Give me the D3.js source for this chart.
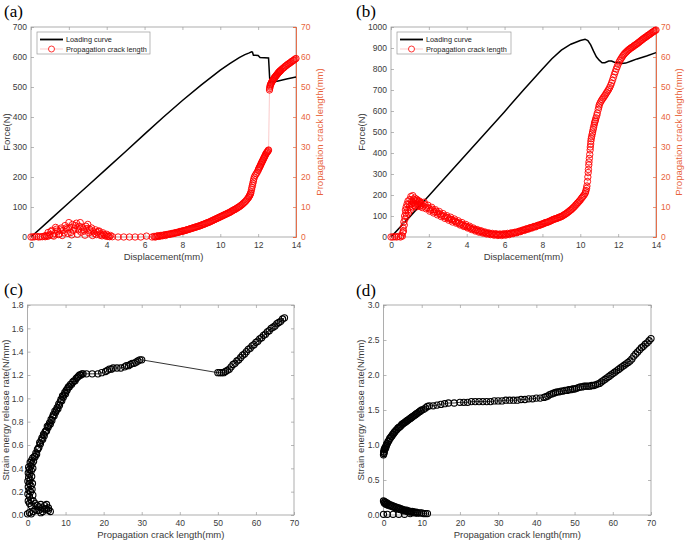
<!DOCTYPE html>
<html>
<head>
<meta charset="utf-8">
<script src="https://cdn.jsdelivr.net/npm/d3@7"></script>
<style>
  body { margin: 0; background: #fff; }
  svg { display: block; font-family: Arial, "Liberation Sans", sans-serif; }
</style>
</head>
<body>
<div id="chart"></div>
<script>
// ---- data ----
// (a) loading curve: [displacement mm, force N]
const loadA = [[0,0],[1,57],[2,114],[3,171],[4,228],[5,285],[6,343],[7,400],[8,455],[9,507],[10,556],[10.5,578],
  [11,598],[11.3,608],[11.5,613],[11.65,617],[11.7,616],[11.75,606],[11.85,606],[12.0,605],
  [12.1,598],[12.55,597],[12.62,516],[13.0,519],[13.5,527],[14,533]];
// (a) propagation crack length: [displacement mm, crack mm]
const crackA = [[0,0],[0.1,0],[0.2,0.1],[0.3,0.2],[0.4,0],[0.5,0.1],[0.6,0.1],[0.7,0.3],[0.75,0.1],[0.8,0.5],
  [0.85,0.2],[0.9,1.5],[0.95,0.4],[1.0,0.8],[1.05,1.8],[1.1,2.2],[1.15,0.6],[1.2,0.3],[1.25,1.2],[1.3,3.2],
  [1.35,2.6],[1.4,2.0],[1.45,0.8],[1.5,1.0],[1.55,2.4],[1.6,3.0],[1.65,0.5],[1.7,2.2],[1.75,1.4],[1.8,3.8],
  [1.85,3.0],[1.9,2.6],[1.95,1.2],[2.0,4.8],[2.05,3.2],[2.1,1.5],[2.15,0.7],[2.2,4.2],[2.25,2.2],[2.3,3.0],
  [2.35,3.8],[2.4,4.6],[2.45,0.9],[2.5,2.4],[2.55,3.6],[2.6,4.8],[2.65,1.6],[2.7,3.2],[2.75,2.6],[2.8,2.0],
  [2.85,0.6],[2.9,3.6],[2.95,2.8],[3.0,4.2],[3.05,1.4],[3.1,2.6],[3.15,2.0],[3.2,3.0],[3.25,0.5],[3.3,1.8],
  [3.35,1.2],[3.4,2.4],[3.45,0.8],[3.5,1.5],[3.55,1.9],[3.6,2.0],[3.65,0.6],[3.7,1.0],[3.75,0.4],[3.8,1.4],
  [3.85,0.9],[3.9,0.6],[3.95,0.3],[4.0,0.9],[4.05,0.2],[4.1,0.3],[4.15,0.1],[4.2,0.5],[4.3,0.1],[4.6,0],[4.9,0],
  [5.2,0],[5.5,0],[5.8,0],[6.1,0.3],[6.4,0],
  [6.5,0.2],[6.55,0.0],[6.6,0.1],[6.65,0.3],[6.7,0.4],[6.75,0.2],[6.8,0.3],[6.85,0.5],[6.9,0.5],[6.95,0.4],[7.0,0.6],
  [7.05,0.7],[7.1,0.5],[7.15,0.8],[7.2,0.8],[7.25,0.9],[7.3,0.9],[7.35,1.0],[7.4,1.0],[7.45,1.2],[7.5,1.1],
  [7.55,1.3],[7.6,1.3],[7.65,1.4],[7.7,1.5],[7.75,1.5],[7.8,1.6],[7.85,1.8],[7.9,1.8],[7.95,1.9],[8.0,1.9],
  [8.05,2.1],[8.1,2.1],[8.15,2.2],[8.2,2.3],[8.25,2.4],[8.3,2.5],[8.35,2.6],[8.4,2.7],[8.45,2.8],[8.5,2.9],
  [8.55,3.0],[8.6,3.1],[8.65,3.2],[8.7,3.3],[8.75,3.4],[8.8,3.5],[8.85,3.6],[8.9,3.7],[8.95,3.8],[9.0,3.9],
  [9.05,4.1],[9.1,4.2],[9.15,4.3],[9.2,4.4],[9.25,4.6],[9.3,4.7],[9.35,4.8],[9.4,4.9],[9.45,5.1],[9.5,5.2],
  [9.55,5.4],[9.6,5.5],[9.65,5.7],[9.7,5.8],[9.75,6.0],[9.8,6.1],[9.85,6.3],[9.9,6.4],[9.95,6.6],[10.0,6.7],
  [10.05,6.9],[10.1,7.0],[10.15,7.2],[10.2,7.3],[10.25,7.5],[10.3,7.6],[10.35,7.8],[10.4,7.9],[10.45,8.1],
  [10.5,8.2],[10.55,8.4],[10.6,8.6],[10.65,8.8],[10.7,9.0],[10.75,9.1],[10.8,9.3],[10.85,9.5],[10.9,9.7],
  [10.95,9.9],[11.0,10.1],[11.05,10.3],[11.1,10.6],[11.15,10.8],[11.2,11.1],[11.25,11.4],[11.3,11.7],[11.35,12.0],
  [11.4,12.4],[11.45,12.8],[11.5,13.2],[11.52,13.5],[11.55,13.8],[11.58,14.2],[11.6,14.5],[11.62,15.0],
  [11.65,15.8],[11.67,16.5],[11.7,17.2],[11.72,17.9],[11.75,18.6],[11.77,19.3],[11.8,20.0],[11.85,20.6],
  [11.9,21.1],[11.95,21.6],[12.0,22.2],[12.02,22.6],[12.05,23.0],[12.08,23.3],[12.1,23.6],[12.13,24.0],
  [12.15,24.3],[12.18,24.7],[12.2,25.0],[12.23,25.3],[12.25,25.6],[12.28,26.0],[12.3,26.3],[12.33,26.6],
  [12.35,26.9],[12.38,27.3],[12.4,27.6],[12.43,27.9],[12.45,28.1],[12.48,28.3],[12.5,28.5],[12.53,28.8],
  [12.55,29.0],[12.6,49.0],[12.61,49.5],[12.62,50.0],[12.64,50.4],[12.65,50.8],[12.68,51.1],[12.7,51.4],
  [12.72,51.7],[12.75,52.0],[12.78,52.2],[12.8,52.5],[12.83,52.8],[12.85,53.0],[12.88,53.2],[12.9,53.4],
  [12.93,53.6],[12.95,53.8],[12.98,54.0],[13.0,54.2],[13.03,54.4],[13.05,54.6],[13.08,54.8],[13.1,55.0],
  [13.13,55.1],[13.15,55.3],[13.18,55.4],[13.2,55.6],[13.25,55.9],[13.3,56.2],[13.35,56.4],[13.4,56.7],
  [13.45,57.0],[13.5,57.2],[13.55,57.5],[13.6,57.7],[13.65,57.9],[13.7,58.1],[13.75,58.4],[13.8,58.6],
  [13.85,58.8],[13.9,59.0],[13.95,59.3],[14.0,59.5]];

// (b) loading curve
const loadB = [[0,0],[1,97],[2,197],[3,297],[4,397],[5,497],[6,597],[7,700],[7.5,750],[8,800],[8.5,849],[9,890],
  [9.5,918],[10,936],[10.25,942],[10.4,935],[10.55,915],[10.7,885],[10.85,858],[11.0,842],[11.15,830],[11.3,830],
  [11.5,838],[11.65,838],[11.8,832],[12.0,831],[12.2,826],[12.4,828],[12.7,838],[13.0,848],[13.5,862],[14,878]];
// (b) propagation crack length
const crackB = [[0,0],[0.1,0],[0.2,0.1],[0.3,0],[0.4,0.2],[0.5,0],[0.55,0.5],[0.6,0.3],[0.62,1.5],[0.64,3],
  [0.66,2],[0.68,5],[0.7,4],[0.72,7],[0.74,6],[0.76,9],[0.78,8],[0.8,10],[0.82,7],[0.85,11],[0.88,9],[0.9,12],
  [0.92,8],[0.95,11],[0.98,10],[1.0,12.5],[1.02,9],[1.05,13.5],[1.08,11],[1.1,12],[1.12,10],[1.15,13.8],[1.18,11.5],
  [1.2,12.5],[1.22,10.5],[1.25,13],[1.28,11],[1.3,12],[1.32,10],[1.35,12.6],[1.38,11.3],[1.4,12.2],[1.42,10.4],
  [1.45,11.8],[1.48,10.8],[1.5,12],[1.52,10.2],[1.55,11.5],[1.58,10.6],
  [1.6,11.2],[1.65,9.8],[1.7,10.3],[1.75,11.6],[1.8,10.8],[1.85,9.4],[1.9,9.8],[1.95,10.6],[2.0,9.6],[2.05,8.6],
  [2.1,9.0],[2.15,9.9],[2.2,9.2],[2.25,8.0],[2.3,8.4],[2.35,9.1],[2.4,8.5],[2.45,7.4],[2.5,7.9],[2.55,8.5],
  [2.6,7.6],[2.65,6.8],[2.7,7.2],[2.75,7.8],[2.8,7.0],[2.85,6.2],[2.9,6.6],[2.95,7.1],[3.0,6.4],[3.05,5.6],
  [3.1,6.0],[3.15,6.6],[3.2,5.8],[3.25,5.0],[3.3,5.5],[3.35,6.0],[3.4,5.2],[3.45,4.6],[3.5,4.9],[3.55,5.4],
  [3.6,4.6],[3.65,4.0],[3.7,4.3],[3.75,4.8],[3.8,4.0],[3.85,3.5],[3.9,3.7],[3.95,4.2],[4.0,3.5],[4.05,3.0],
  [4.1,3.2],[4.15,3.6],[4.2,3.0],[4.25,2.5],[4.3,2.7],[4.35,3.0],[4.4,2.5],[4.45,2.0],[4.5,2.3],[4.55,2.5],
  [4.6,2.0],[4.65,1.6],[4.7,1.9],[4.75,2.1],[4.8,1.7],[4.85,1.3],[4.9,1.5],[4.95,1.7],[5.0,1.3],[5.05,1.0],
  [5.1,1.2],[5.15,1.4],[5.2,1.1],[5.25,0.8],[5.3,1.0],[5.35,1.2],[5.4,0.9],[5.45,0.6],[5.5,0.9],[5.55,1.1],
  [5.6,0.8],[5.65,0.5],[5.7,0.8],[5.75,1.0],[5.8,0.8],[5.85,0.5],[5.9,0.8],[5.95,1.1],[6.0,0.9],[6.05,0.6],
  [6.1,0.9],[6.15,1.2],[6.2,1.0],[6.25,0.8],[6.3,1.1],[6.35,1.4],[6.4,1.2],[6.45,1.1],[6.5,1.4],[6.55,1.6],
  [6.6,1.5],[6.65,1.4],[6.7,1.7],[6.75,1.9],[6.8,1.9],[6.85,1.8],[6.9,2.1],[6.95,2.3],[7.0,2.3],[7.05,2.2],
  [7.1,2.5],[7.15,2.7],[7.2,2.7],[7.25,2.6],[7.3,2.9],[7.35,3.1],[7.4,3.1],[7.45,3.0],[7.5,3.3],[7.55,3.5],
  [7.6,3.5],[7.65,3.4],[7.7,3.7],[7.75,3.9],[7.8,3.9],[7.85,3.9],[7.9,4.1],[7.95,4.3],[8.0,4.3],[8.05,4.4],
  [8.1,4.6],[8.15,4.8],[8.2,4.8],[8.25,4.9],[8.3,5.0],[8.35,5.2],[8.4,5.3],[8.45,5.4],[8.5,5.6],[8.55,5.8],
  [8.6,5.9],[8.65,6.0],[8.7,6.1],[8.75,6.2],[8.8,6.3],[8.85,6.5],[8.9,6.6],[8.95,6.7],[9.0,6.8],[9.05,7.0],
  [9.1,7.2],[9.15,7.4],[9.2,7.6],[9.25,7.8],[9.3,8.0],[9.35,8.3],[9.4,8.5],[9.45,8.8],[9.5,9.0],[9.55,9.3],
  [9.6,9.6],[9.65,9.9],[9.7,10.2],[9.75,10.6],[9.8,10.9],[9.85,11.3],[9.9,11.6],[9.95,12.0],[10.0,12.3],
  [10.05,12.8],[10.1,13.2],[10.15,13.6],[10.2,14.0],[10.25,14.5],[10.28,15.0],[10.3,15.5],[10.33,16.2],[10.35,17],
  [10.38,18.5],[10.4,20],[10.42,21.5],[10.43,22.5],[10.45,24],[10.46,25],[10.48,26.2],[10.5,27.5],[10.52,29],
  [10.53,30],[10.55,31],[10.56,32],[10.58,32.8],[10.6,33.5],[10.63,34.3],[10.65,35],[10.68,35.8],[10.7,36.5],
  [10.73,37.3],[10.75,38],[10.78,38.5],[10.8,39],[10.83,39.7],[10.87,40.5],[10.9,41.3],[10.95,42.5],[10.98,43.3],
  [11.0,44],[11.05,44.7],[11.1,45.3],[11.15,45.8],[11.2,46.3],[11.25,46.7],[11.3,47.2],[11.35,47.7],[11.4,48.2],
  [11.45,48.7],[11.5,49.2],[11.55,49.8],[11.6,50.5],[11.65,51.3],[11.7,52.2],[11.75,53.2],[11.8,54.2],[11.85,55.1],
  [11.9,56],[11.95,56.8],[12.0,57.6],[12.05,58.3],[12.1,58.9],[12.15,59.4],[12.2,59.9],[12.25,60.4],[12.3,60.8],
  [12.35,61.2],[12.4,61.5],[12.45,61.8],[12.5,62.1],[12.55,62.4],[12.6,62.6],[12.65,62.9],[12.7,63.1],[12.75,63.3],
  [12.8,63.5],[12.85,63.8],[12.9,64],[12.95,64.2],[13.0,64.4],[13.05,64.7],[13.1,64.9],[13.15,65.2],[13.2,65.4],
  [13.25,65.7],[13.3,65.9],[13.35,66.2],[13.4,66.4],[13.45,66.6],[13.5,66.8],[13.55,67.1],[13.6,67.3],[13.65,67.5],
  [13.7,67.7],[13.75,68.0],[13.8,68.2],[13.85,68.4],[13.9,68.6],[13.95,68.8],[14.0,69]];

// (c) strain energy release rate vs crack length: [crack mm, G N/mm]
const energyC = [[0,0.01],[0.5,0.02],[1,0.01],[1.5,0.03],[2,0.05],[2.5,0.04],[3,0.07],[3.5,0.09],[4,0.06],[4.5,0.08],
  [5,0.05],[5.5,0.04],[6,0.03],[5.5,0.06],[5,0.09],[4.5,0.05],[4,0.03],[3.5,0.02],[3,0.04],[2.5,0.08],[2,0.1],
  [1.5,0.12],[1,0.08],[0.5,0.1],[0.2,0.12],[0.9,0.13],[0.5,0.16],[1.4,0.17],[0.1,0.18],[0.8,0.2],[0.4,0.21],
  [1.2,0.22],[0.2,0.24],[0.9,0.25],[0.5,0.27],[1.3,0.27],[0.1,0.29],[0.7,0.3],[0.3,0.32],[1.1,0.33],[0.6,0.35],
  [0.2,0.36],[1.0,0.38],[0.5,0.39],[1.4,0.4],[0.3,0.41],[0.9,0.42],[1.2,0.44],[0.7,0.45],[1.6,0.46],[1.1,0.47],
  [1.4,0.49],[1.8,0.5],[2.0,0.5],[2.2,0.53],[2.4,0.52],[2.6,0.56],[2.8,0.57],[3.0,0.58],[3.2,0.62],[3.4,0.61],
  [3.6,0.64],[3.8,0.66],[4.0,0.65],[4.2,0.69],[4.4,0.68],[4.6,0.71],[4.8,0.72],[5.0,0.72],[5.2,0.76],[5.4,0.75],
  [5.6,0.77],[5.8,0.79],[6.0,0.78],[6.2,0.82],[6.4,0.81],[6.6,0.84],[6.8,0.86],[7.0,0.85],[7.2,0.89],[7.4,0.88],
  [7.6,0.9],[7.8,0.92],[8.0,0.91],[8.2,0.95],[8.4,0.94],[8.6,0.97],[8.8,0.99],[9.0,0.98],[9.2,1.02],[9.4,1.01],
  [9.6,1.03],[9.8,1.05],[10.0,1.04],[10.2,1.07],[10.4,1.07],[10.6,1.09],[10.8,1.1],[11.0,1.1],[11.3,1.12],
  [11.6,1.12],[11.9,1.14],[12.2,1.15],[12.5,1.15],[12.8,1.17],[13.1,1.18],[13.4,1.19],[13.7,1.2],[14.0,1.2],
  [14.3,1.21],[14.6,1.21],[15.5,1.21],[17,1.21],[18.5,1.21],[19.5,1.22],[20.5,1.23],[21,1.24],[21.5,1.25],[22,1.25],
  [22.5,1.26],[23.5,1.26],[24.5,1.26],[25.5,1.27],[26,1.28],[26.5,1.28],[27,1.29],[27.5,1.3],[28,1.3],[28.5,1.31],
  [29,1.32],[29.5,1.33],[30,1.33],
  [50,1.22],[50.5,1.22],[51,1.22],[51.5,1.22],[52,1.23],[52.5,1.24],[53,1.25],[53.5,1.27],[54,1.29],[54.5,1.3],
  [55,1.32],[55.5,1.33],[56,1.35],[56.5,1.37],[57,1.38],[57.5,1.4],[58,1.42],[58.5,1.43],[59,1.45],[59.5,1.46],
  [60,1.48],[60.5,1.49],[61,1.51],[61.5,1.52],[62,1.54],[62.5,1.55],[63,1.57],[63.5,1.58],[64,1.6],[64.5,1.61],
  [65,1.62],[65.5,1.64],[66,1.65],[66.5,1.66],[67,1.68],[67.5,1.69]];

// (d) lower branch and upper branch
const energyDLow = [[0,0.01],[1,0.01],[2.5,0.01],[4,0.01],[5.5,0.01],[7,0.02],
  [0,0.2],[0.2,0.17],[0.3,0.19],[0.5,0.16],[0.6,0.18],[0.8,0.15],[1,0.17],[1.25,0.14],[1.5,0.15],[1.75,0.13],
  [2,0.14],[2.25,0.12],[2.5,0.13],[2.75,0.11],[3,0.12],[3.25,0.1],[3.5,0.11],[3.75,0.09],[4,0.1],[4.25,0.08],
  [4.5,0.09],[4.75,0.07],[5,0.08],[5.25,0.06],[5.5,0.07],[5.75,0.06],[6,0.07],[6.25,0.05],[6.5,0.06],[6.75,0.05],
  [7,0.05],[7.25,0.04],[7.5,0.05],[7.75,0.04],[8,0.04],[8.25,0.03],[8.5,0.04],[8.75,0.03],[9,0.03],[9.5,0.03],
  [10,0.03],[10.5,0.02],[11,0.02],[11.5,0.02]];
const energyDHigh = [[0,0.86],[0.05,0.9],[0.1,0.88],[0.15,0.93],[0.2,0.9],[0.3,0.95],[0.4,0.94],[0.5,0.97],
  [0.6,0.96],[0.7,0.99],[0.8,1.0],[0.9,1.02],[1.0,1.02],[1.2,1.05],[1.4,1.06],[1.6,1.09],[1.8,1.1],[2.0,1.12],
  [2.2,1.13],[2.4,1.15],[2.6,1.16],[2.8,1.18],[3,1.19],[3.25,1.21],[3.5,1.22],[3.75,1.24],[4,1.25],[4.25,1.26],
  [4.5,1.27],[4.75,1.29],[5,1.3],[5.25,1.31],[5.5,1.32],[5.75,1.33],[6,1.34],[6.25,1.35],[6.5,1.36],[6.75,1.37],
  [7,1.38],[7.25,1.39],[7.5,1.4],[7.75,1.41],[8,1.42],[8.25,1.43],[8.5,1.44],[8.75,1.45],[9,1.46],[9.25,1.47],
  [9.5,1.48],[9.75,1.49],[10,1.5],[10.5,1.51],[11,1.53],[11.5,1.55],[12,1.56],[13,1.56],[14,1.57],[15,1.58],
  [16,1.59],[17,1.6],[18.5,1.6],[20,1.61],[21,1.61],[22,1.61],[23,1.62],[24,1.62],[25,1.62],[26,1.62],[27,1.62],
  [28,1.62],[29,1.63],[30,1.63],[31,1.63],[32,1.64],[33,1.64],[34,1.64],[35,1.64],[36,1.65],[37,1.65],[38,1.66],
  [39,1.66],[40,1.67],[41,1.67],[42,1.68],[42.5,1.69],[43,1.7],[43.5,1.72],[44,1.73],[44.5,1.74],[45,1.75],
  [45.5,1.76],[46,1.76],[46.5,1.77],[47,1.77],[47.5,1.78],[48,1.78],[48.5,1.79],[49,1.79],[49.5,1.8],[50,1.8],
  [50.5,1.81],[51,1.82],[51.5,1.83],[52,1.83],[52.5,1.84],[53,1.84],[53.5,1.84],[54,1.84],[54.5,1.85],[55,1.85],
  [55.5,1.86],[56,1.87],[56.5,1.88],[57,1.9],[57.5,1.92],[58,1.94],[58.5,1.96],[59,1.98],[59.5,2.0],[60,2.02],
  [60.5,2.04],[61,2.06],[61.5,2.08],[62,2.1],[62.5,2.12],[63,2.14],[63.5,2.16],[64,2.18],[64.5,2.2],[65,2.23],
  [65.5,2.27],[66,2.3],[66.5,2.33],[67,2.36],[67.5,2.39],[68,2.41],[68.5,2.44],[69,2.46],[69.5,2.49],[70,2.52]];

// tick labels
const dispTicks = [0, 2, 4, 6, 8, 10, 12, 14];
const forceTicksA = [0, 100, 200, 300, 400, 500, 600, 700];
const forceTicksB = [0, 100, 200, 300, 400, 500, 600, 700, 800, 900, 1000];
const crackTicks = [0, 10, 20, 30, 40, 50, 60, 70];
const energyTicksC = [0, 0.2, 0.4, 0.6, 0.8, 1.0, 1.2, 1.4, 1.6, 1.8];
const energyTicksD = [0, 0.5, 1.0, 1.5, 2.0, 2.5, 3.0];
const legendLabels = ["Loading curve", "Propagation crack length"];

// ---- drawing ----
const width = 685, height = 542;
const axisGray = "#9a9a9a", textGray = "#3a3a3a", orange = "#e8643c", red = "#ff0000";

const svg = d3.select("#chart").append("svg")
  .attr("width", width)
  .attr("height", height);

// box, inward ticks on all sides
function frame(x, y, xTicks, yTicks, yFmt, xLabel, yLabel, yLabelX, right) {
  const g = svg.append("g");
  const [x0, x1] = x.range(), [y0, y1] = y.range();

  g.append("g").attr("transform", `translate(0,${y0})`)
    .call(d3.axisBottom(x).tickValues(xTicks).tickSize(-3).tickPadding(5));
  g.append("g").attr("transform", `translate(0,${y1})`)
    .call(d3.axisTop(x).tickValues(xTicks).tickSize(-3).tickFormat(""));
  g.append("g").attr("transform", `translate(${x0},0)`)
    .call(d3.axisLeft(y).tickValues(yTicks).tickSize(-3).tickPadding(4).tickFormat(yFmt));
  if (!right) {
    g.append("g").attr("transform", `translate(${x1},0)`)
      .call(d3.axisRight(y).tickValues(yTicks).tickSize(-3).tickFormat(""));
  }
  g.selectAll(".domain").remove();
  g.selectAll(".tick line").attr("stroke", axisGray).attr("stroke-width", 0.7);
  g.selectAll(".tick text").attr("fill", textGray).style("font-size", "8.5px")
    .style("font-family", "Arial, 'Liberation Sans', sans-serif");

  g.append("rect")
    .attr("x", x0).attr("y", y1).attr("width", x1 - x0).attr("height", y0 - y1)
    .attr("fill", "none").attr("stroke", axisGray).attr("stroke-width", 0.8);

  g.append("text")
    .attr("x", (x0 + x1) / 2).attr("y", y0 + 23)
    .attr("text-anchor", "middle").attr("fill", textGray).style("font-size", "9.5px")
    .text(xLabel);
  g.append("text")
    .attr("transform", `translate(${yLabelX},${(y0 + y1) / 2}) rotate(-90)`)
    .attr("text-anchor", "middle").attr("fill", textGray).style("font-size", "9.5px")
    .text(yLabel);

  if (right) {
    const ra = g.append("g").attr("transform", `translate(${x1},0)`)
      .call(d3.axisRight(right.scale).tickValues(right.ticks).tickSize(-3).tickPadding(5));
    ra.select(".domain").attr("stroke", orange).attr("stroke-width", 0.9);
    ra.selectAll(".tick line").attr("stroke", orange).attr("stroke-width", 0.7);
    ra.selectAll(".tick text").attr("fill", orange).style("font-size", "8.5px");
    g.append("text")
      .attr("transform", `translate(${right.labelX},${(y0 + y1) / 2}) rotate(-90)`)
      .attr("text-anchor", "middle").attr("fill", orange).style("font-size", "9.5px")
      .text(right.label);
  }
}

function panelLetter(txt, x, y) {
  svg.append("text").attr("x", x).attr("y", y)
    .style("font-family", "'Liberation Serif', 'Times New Roman', serif")
    .style("font-size", "17px").attr("fill", "#000").text(txt);
}

function drawLine(x, y, data, color, w) {
  svg.append("path").datum(data)
    .attr("fill", "none").attr("stroke", color).attr("stroke-width", w)
    .attr("d", d3.line().x(d => x(d[0])).y(d => y(d[1])));
}

function drawCircles(x, y, data, color, r, w) {
  svg.append("g").selectAll("circle")
    .data(data)
    .join("circle")
    .attr("cx", d => x(d[0]))
    .attr("cy", d => y(d[1]))
    .attr("r", r)
    .attr("fill", "none")
    .attr("stroke", color)
    .attr("stroke-width", w);
}

function legend(x, y, w) {
  const g = svg.append("g");
  g.append("rect").attr("x", x).attr("y", y).attr("width", w).attr("height", 22)
    .attr("fill", "#fff").attr("stroke", axisGray).attr("stroke-width", 0.7);
  g.append("line").attr("x1", x + 3).attr("x2", x + 26).attr("y1", y + 7.5).attr("y2", y + 7.5)
    .attr("stroke", "#000").attr("stroke-width", 1.8);
  g.append("line").attr("x1", x + 3).attr("x2", x + 26).attr("y1", y + 17).attr("y2", y + 17)
    .attr("stroke", "#f6a8a8").attr("stroke-width", 0.6);
  g.append("circle").attr("cx", x + 14.5).attr("cy", y + 17).attr("r", 3)
    .attr("fill", "#fff").attr("stroke", red).attr("stroke-width", 0.8);
  legendLabels.forEach((t, i) => {
    g.append("text").attr("x", x + 29).attr("y", y + 10 + i * 9.5)
      .attr("fill", "#222").style("font-size", "7.3px").text(t);
  });
}

// panels (a) and (b): force + crack length vs displacement
function loadPanel(left, right, fMax, fTicks, load, crack, legendW, yLabelX, rLabelX) {
  const x = d3.scaleLinear().domain([0, 14]).range([left, right]);
  const y = d3.scaleLinear().domain([0, fMax]).range([237, 27]);
  const yr = d3.scaleLinear().domain([0, 70]).range([237, 27]);
  frame(x, y, dispTicks, fTicks, d3.format("d"), "Displacement(mm)", "Force(N)", yLabelX,
    { scale: yr, ticks: crackTicks, label: "Propagation crack length(mm)", labelX: rLabelX });
  drawLine(x, y, load, "#000", 1.5);
  drawLine(x, yr, crack, "#f6a8a8", 0.6);
  drawCircles(x, yr, crack, red, 3.2, 0.9);
  legend(left + 6, 32, legendW);
}

loadPanel(31, 296, 700, forceTicksA, loadA, crackA, 113, 10, 323);
loadPanel(391, 656, 1000, forceTicksB, loadB, crackB, 114, 365, 682);

// panel (c)
{
  const x = d3.scaleLinear().domain([0, 70]).range([27.5, 294]);
  const y = d3.scaleLinear().domain([0, 1.8]).range([515, 305]);
  frame(x, y, crackTicks, energyTicksC, d3.format(".1f"), "Propagation crack length(mm)",
    "Strain energy release rate(N/mm)", 9, null);
  drawLine(x, y, energyC, "#000", 0.8);
  drawCircles(x, y, energyC, "#000", 3.1, 1.1);
}

// panel (d)
{
  const x = d3.scaleLinear().domain([0, 70]).range([383.5, 651]);
  const y = d3.scaleLinear().domain([0, 3]).range([515, 305]);
  frame(x, y, crackTicks, energyTicksD, d3.format(".1f"), "Propagation crack length(mm)",
    "Strain energy release rate(N/mm)", 364, null);
  drawLine(x, y, energyDLow.slice(6), "#000", 0.8);
  drawLine(x, y, energyDHigh, "#000", 0.8);
  drawCircles(x, y, energyDLow, "#000", 3.1, 1.1);
  drawCircles(x, y, energyDHigh, "#000", 3.1, 1.1);
}

panelLetter("(a)", 4, 17);
panelLetter("(b)", 356, 17);
panelLetter("(c)", 4, 295);
panelLetter("(d)", 356, 296);
</script>
</body>
</html>
